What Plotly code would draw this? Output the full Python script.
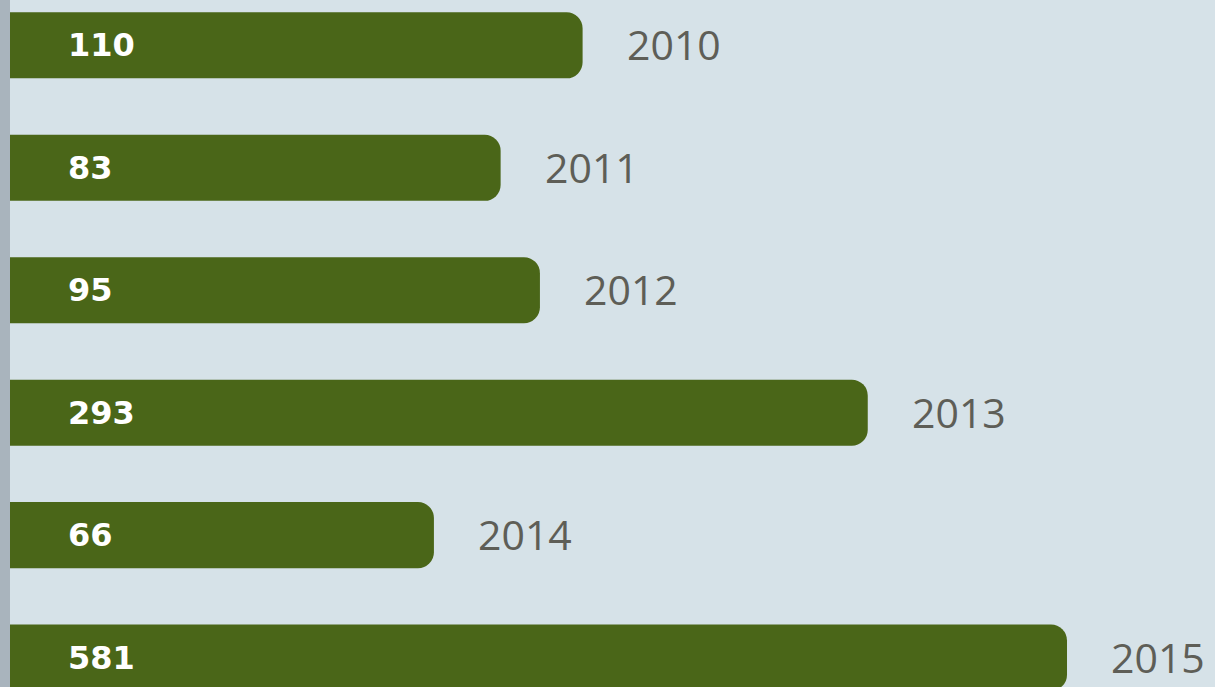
import numpy as np
import plotly.graph_objects as go

# Yearly totals
years = ["2010", "2011", "2012", "2013", "2014", "2015"]
values = [110, 83, 95, 293, 66, 581]

BAR_COLOR = "#4a6618"
BG_COLOR = "#d6e2e8"
YEAR_COLOR = "#5e5e57"

rows = list(range(len(years)))

fig = go.Figure(
    go.Bar(
        x=values,
        y=rows,
        orientation="h",
        marker=dict(color=BAR_COLOR, cornerradius=16, line=dict(width=0)),
        width=0.54,
        hoverinfo="skip",
    )
)

for i, (yr, v) in enumerate(zip(years, values)):
    # value label inside the bar, near its left edge
    fig.add_annotation(
        x=0, xref="paper", y=i, yref="y",
        text=f"<b>{v}</b>", showarrow=False,
        xanchor="left", xshift=56,
        font=dict(family="DejaVu Sans", size=32, color="white"),
    )
    # year label past the end of the bar (log axis -> log10 coordinates)
    fig.add_annotation(
        x=np.log10(v), xref="x", y=i, yref="y",
        text=yr, showarrow=False,
        xanchor="left", xshift=42, yshift=1,
        font=dict(family="Open Sans", size=41, color=YEAR_COLOR),
    )

# grey strip along the left edge
fig.add_shape(
    type="rect", xref="paper", yref="paper",
    x0=-10 / 1205, x1=0, y0=0, y1=1,
    fillcolor="#a9b4bd", line=dict(width=0), layer="below",
)

fig.update_layout(
    width=1215, height=687,
    margin=dict(l=10, r=0, t=0, b=0),
    paper_bgcolor=BG_COLOR,
    plot_bgcolor=BG_COLOR,
    showlegend=False,
    xaxis=dict(type="log", range=[1.187, 2.985], visible=False, fixedrange=True),
    yaxis=dict(range=[5.24, -0.37], visible=False, fixedrange=True),
)

fig.write_html("out.html")
